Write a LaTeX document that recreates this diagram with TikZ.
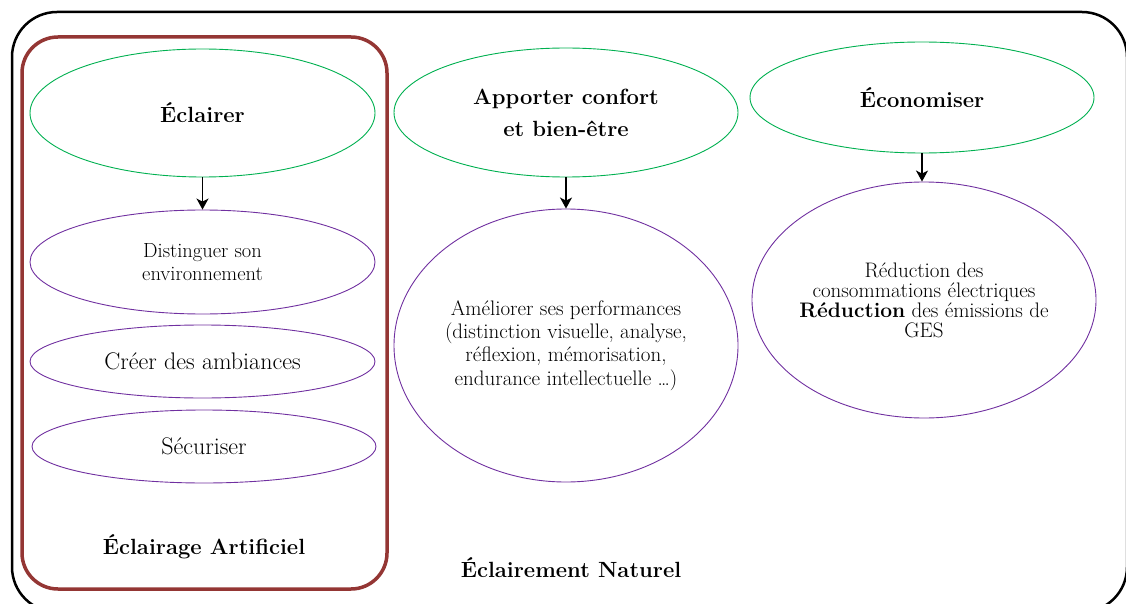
\documentclass[tikz,border=0pt]{standalone}
\usepackage{fontspec}
\usetikzlibrary{shapes.geometric,arrows.meta}
\definecolor{ellgreen}{HTML}{00B050}
\definecolor{ellpurple}{HTML}{7030A0}
\definecolor{boxbrown}{HTML}{943634}
\tikzset{
  gell/.style={ellipse, draw=ellgreen, line width=0.9pt, inner sep=-12pt, align=center,
    font=\fontsize{22}{32}\selectfont\bfseries},
  pell/.style={ellipse, draw=ellpurple, line width=0.9pt, inner sep=-15pt, align=center},
  arr/.style={-{Stealth[length=11pt,width=12pt,inset=3pt]}, line width=1.5pt, black},
  outerbox/.style={draw=black, line width=2.5pt, rounded corners=45pt},
  brownbox/.style={draw=boxbrown, line width=3.5pt, rounded corners=36pt},
  label/.style={font=\fontsize{22}{24}\selectfont\bfseries, inner sep=0pt}
}
\begin{document}
\begin{tikzpicture}[x=1pt,y=-1pt]
\useasboundingbox (0,0) rectangle (1126,604);
\draw[outerbox] (12,12) rectangle (1127,612);
\draw[brownbox] (22,37) rectangle (387,589);

% left column
\node[gell, minimum width=345, minimum height=128] (g1) at (202.5,113) {Éclairer};
\node[pell, minimum width=345, minimum height=104, font=\fontsize{20.5}{23}\selectfont] (p1a) at (202.5,262) {Distinguer son\\environnement};
\node[pell, minimum width=345, minimum height=73, font=\fontsize{24}{24}\selectfont] (p1b) at (202.5,361.5) {Créer des ambiances};
\node[pell, minimum width=344, minimum height=73, font=\fontsize{24}{24}\selectfont] (p1c) at (204,446.5) {Sécuriser};
\node[label] (lab1) at (204,547) {Éclairage Artificiel};

% middle column
\node[gell, minimum width=344, minimum height=129] (g2) at (566,112.5) {Apporter confort\\et bien-être};
\node[pell, minimum width=344, minimum height=273, font=\fontsize{21}{23.3}\selectfont] (p2) at (566,345.5)
  {Améliorer ses performances\\(distinction visuelle, analyse,\\réflexion, mémorisation,\\endurance intellectuelle …)};
\node[label] (lab2) at (571,568) {Éclairement Naturel};

% right column
\node[gell, minimum width=344, minimum height=111] (g3) at (922,97.5) {Économiser};
\node[pell, minimum width=344, minimum height=236, font=\fontsize{21}{20}\selectfont] (p3) at (924,300)
  {Réduction des\\consommations électriques\\\textbf{Réduction} des émissions de\\GES};

\draw[arr] (g1.south) -- (p1a.north);
\draw[arr] (g2.south) -- (p2.north);
\draw[arr] (g3.south) -- (g3.south |- p3.north);
\end{tikzpicture}
\end{document}
